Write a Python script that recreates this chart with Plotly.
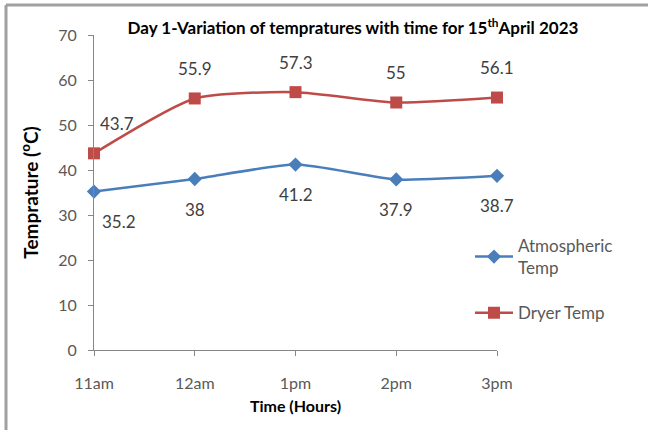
import plotly.graph_objects as go

times = ["11am", "12am", "1pm", "2pm", "3pm"]
atmospheric = [35.2, 38, 41.2, 37.9, 38.7]
dryer = [43.7, 55.9, 57.3, 55, 56.1]
y_ticks = [0, 10, 20, 30, 40, 50, 60, 70]

FONT = "Lato"
BLUE = "#4A7EBB"
RED = "#BE4B48"
GRAY = "#595959"

xs = list(range(len(times)))

fig = go.Figure()
fig.add_trace(go.Scatter(
    x=xs, y=atmospheric, name="Atmospheric<br>Temp", mode="lines+markers",
    legendgroup="a",
    line=dict(color=BLUE, width=2.5, shape="spline", smoothing=0.6),
    marker=dict(symbol="diamond", size=11, color=BLUE),
    cliponaxis=False,
))
fig.add_trace(go.Scatter(
    x=xs, y=dryer, name="Dryer Temp", mode="lines+markers",
    legendgroup="b",
    line=dict(color=RED, width=2.5, shape="spline", smoothing=0.6),
    marker=dict(symbol="square", size=12, color=RED),
    cliponaxis=False,
))

annotations = []
for i, v in enumerate(atmospheric):
    annotations.append(dict(x=xs[i], y=v, text=str(v), showarrow=False,
                            xshift=25 if i == 0 else 0, yshift=-30,
                            font=dict(family=FONT, size=17, color="#404040")))
for i, v in enumerate(dryer):
    annotations.append(dict(x=xs[i], y=v, text=str(v), showarrow=False,
                            xshift=23 if i == 0 else 0, yshift=30,
                            font=dict(family=FONT, size=17, color="#404040")))

fig.update_layout(
    width=648, height=430,
    margin=dict(l=94, r=151, t=35, b=80),
    paper_bgcolor="white", plot_bgcolor="white",
    font=dict(family=FONT, size=16, color=GRAY),
    title=dict(text="<b>Day 1-Variation of tempratures with time for 15<sup>th</sup>April 2023</b>",
               x=353 / 648, xanchor="center", y=1 - 28 / 430, yanchor="middle",
               font=dict(family=FONT, size=17, color="#000000")),
    xaxis=dict(range=[0, 4], tickmode="array", tickvals=xs, ticktext=times,
               showgrid=False, zeroline=False, showline=True, linecolor="#868686",
               linewidth=1, ticks="outside", ticklen=5, tickcolor="#868686",
               ticklabelstandoff=14,
               tickfont=dict(family=FONT, size=16, color=GRAY),
               title=dict(text="<b>Time (Hours)</b>", standoff=9,
                          font=dict(family=FONT, size=16, color="#000000"))),
    yaxis=dict(range=[0, 70], tickmode="array", tickvals=y_ticks,
               showgrid=False, zeroline=False, showline=True, linecolor="#868686",
               linewidth=1, ticks="outside", ticklen=5, tickcolor="#868686",
               ticklabelstandoff=8,
               tickfont=dict(family=FONT, size=16, color=GRAY),
               title=dict(text="<b>Temprature (<sup>o</sup>C)</b>", standoff=14,
                          font=dict(family=FONT, size=19, color="#000000"))),
    legend=dict(x=(470 - 94) / 403, y=(350 - 228) / 315, xanchor="left", yanchor="top",
                bgcolor="rgba(0,0,0,0)", font=dict(family=FONT, size=17, color=GRAY),
                tracegroupgap=20, itemwidth=38),
    annotations=annotations,
    shapes=[
        dict(type="line", xref="paper", yref="paper", x0=(6 - 94) / 403, x1=(6 - 94) / 403,
             y0=(350 - 5) / 315, y1=(350 - 440) / 315, line=dict(color="#A0A0A0", width=3)),
        dict(type="line", xref="paper", yref="paper", x0=(6 - 94) / 403, x1=(660 - 94) / 403,
             y0=(350 - 5) / 315, y1=(350 - 5) / 315, line=dict(color="#A0A0A0", width=3)),
    ],
    showlegend=True,
)

fig.write_html("out.html")
